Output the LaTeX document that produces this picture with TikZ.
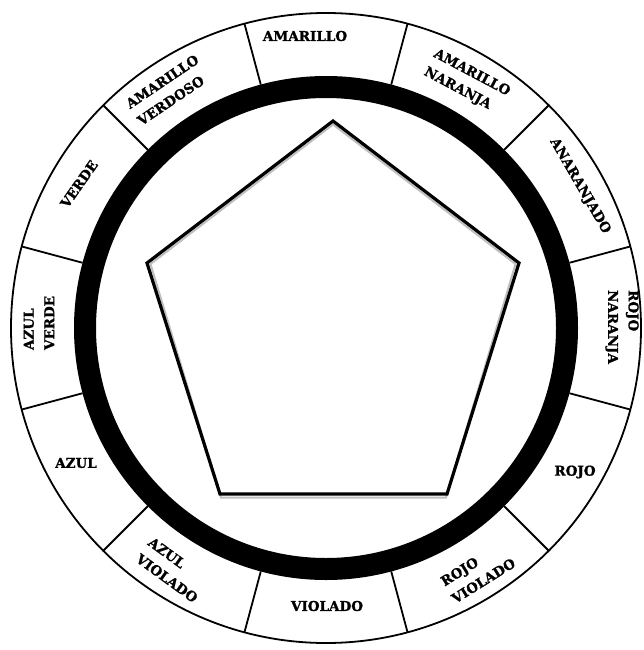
\documentclass[tikz,border=0pt]{standalone}
\usepackage{fontspec}
\usetikzlibrary{calc}
\setmainfont{DejaVu Serif}
\newfontfamily\lblfont[BoldFeatures={FakeBold=1.3}]{DejaVu Serif}
\begin{document}
\begin{tikzpicture}[x=1pt,y=-1pt,
  lbl/.style={font=\lblfont\bfseries\fontsize{13.5}{20.5}\selectfont,align=left,inner sep=0pt},
  divider/.style={line width=1.8pt},
  rim/.style={line width=1.8pt},
  pent/.style={line width=3.2pt,line join=miter},
  pentshadow/.style={line width=2pt,draw=black!25}]
\useasboundingbox (0,0) rectangle (643,650);
\coordinate (c) at (326,328);
% outer rim
\draw[rim] (c) circle[radius=315];
% black ring
\draw[line width=22pt] (c) circle[radius=241];
% dividers
\foreach \a in {15,45,...,345}{
  \draw[divider] ($(c)+(\a:252 and -252)$) -- ($(c)+(\a:315 and -315)$);
}
% pentagon
\coordinate (p1) at (333,121);
\coordinate (p2) at (519,263);
\coordinate (p3) at (447,494);
\coordinate (p4) at (220,494);
\coordinate (p5) at (147,263);
\draw[pentshadow] ($(p1)+(0,3.5)$) -- ($(p2)+(-3.5,1)$) -- ($(p3)+(-1,3.5)$) -- ($(p4)+(1,3.5)$) -- ($(p5)+(3.5,1)$) -- cycle;
\draw[pent] (p1) -- (p2) -- (p3) -- (p4) -- (p5) -- cycle;
% labels
\node[lbl] (amarillo) at (305,36) {AMARILLO};
\node[lbl,rotate=-28] (amna) at (467,82) {AMARILLO\\NARANJA};
\node[lbl,rotate=-60] (anaranjado) at (580,186) {ANARANJADO};
\node[lbl,rotate=-90] (rojona) at (622,327) {ROJO\\NARANJA};
\node[lbl] (rojo) at (575,472) {ROJO};
\node[lbl,rotate=32] (rojovi) at (478,572) {ROJO\\VIOLADO};
\node[lbl] (violado) at (327,606) {VIOLADO};
\node[lbl,rotate=-36] (azulvi) at (173,570) {AZUL\\VIOLADO};
\node[lbl] (azul) at (76,463) {AZUL};
\node[lbl,rotate=90] (azulve) at (39,323) {AZUL\\VERDE};
\node[lbl,rotate=55] (verde) at (79,184) {VERDE};
\node[lbl,rotate=34] (amve) at (168,90) {AMARILLO\\VERDOSO};
\end{tikzpicture}
\end{document}
